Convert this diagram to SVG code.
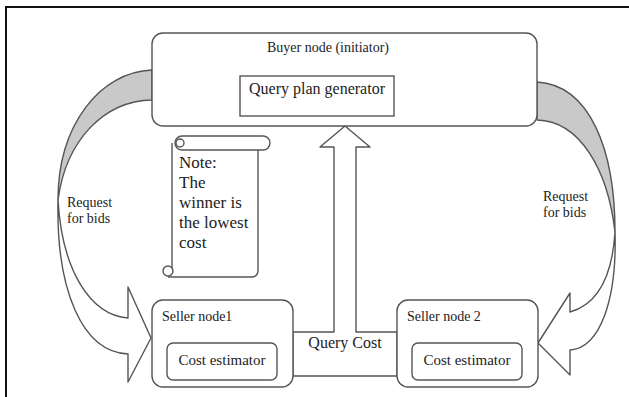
<svg xmlns="http://www.w3.org/2000/svg" width="629" height="397" viewBox="0 0 629 397">
  <style>
    .ln { fill: none; stroke: #555; stroke-width: 1.4; stroke-linejoin: round; }
    .box { fill: #fff; stroke: #555; stroke-width: 1.4; }
    .back { fill: #c9c9c9; stroke: #555; stroke-width: 1.4; stroke-linejoin: round; }
    .face { fill: #fff; stroke: #555; stroke-width: 1.4; stroke-linejoin: round; }
    text { font-family: "Liberation Serif", "Times New Roman", serif; fill: #222; }
    .t14 { font-size: 14px; }
    .t15 { font-size: 15px; }
    .t16 { font-size: 16px; }
    .note { font-size: 17px; }
  </style>

  <rect width="629" height="397" fill="#fff"/>
  <!-- page frame (top and left rule) -->
  <path d="M6,397 V7 H629" fill="none" stroke="#111" stroke-width="2"/>

  <g id="connectors">
    <!-- left curved arrow: buyer -> seller 1 -->
    <g id="request-left">
      <path class="back" d="M152,70 C100,72 58,125 58,200 C66,140 104,101 152,100 Z"/>
      <path class="face" d="M58,200 C56,290 82,352 128,354 L128,382 L151,338 L128,287 L128,318 C90,315 62,270 58,200 Z"/>
      <text class="t14" x="67" y="207">Request</text>
      <text class="t14" x="67" y="223">for bids</text>
    </g>
    <!-- right curved arrow: buyer -> seller 2 -->
    <g id="request-right">
      <path class="back" d="M537,82 C590,85 615,150 615,232 C608,170 580,121 537,120 Z"/>
      <path class="face" d="M615,232 C617,300 600,348 570,350 L570,375 L538,343 L570,293 L570,312 C595,305 612,280 615,232 Z"/>
      <text class="t14" x="543" y="201">Request</text>
      <text class="t14" x="543" y="217">for bids</text>
    </g>
    <!-- query cost band between sellers with upward arrow to buyer -->
    <g id="query-cost">
      <path class="face" d="M293,332 H334 V147 H320 L345,126 L370,147 H356 V332 H397 V376 H293 Z"/>
      <text class="t16" x="345" y="348" text-anchor="middle">Query Cost</text>
    </g>
  </g>

  <g id="buyer">
    <rect class="box" x="152" y="33" width="385" height="93" rx="11"/>
    <text class="t14" x="328" y="52" text-anchor="middle">Buyer node (initiator)</text>
    <g id="query-plan-generator">
      <rect class="box" x="240" y="76" width="154" height="40"/>
      <text class="t16" x="317" y="94" text-anchor="middle">Query plan generator</text>
    </g>
  </g>

  <g id="note">
    <path class="face" d="M172,143 V270 M258,150 V270 Q258,277 251,277 H168"/>
    <rect class="box" x="175" y="136" width="95" height="14" rx="7"/>
    <circle class="box" cx="180" cy="143" r="4"/>
    <circle class="box" cx="168" cy="271" r="5"/>
    <text class="note" x="179" y="168">Note:</text>
    <text class="note" x="179" y="188">The</text>
    <text class="note" x="179" y="208">winner is</text>
    <text class="note" x="179" y="228">the lowest</text>
    <text class="note" x="179" y="248">cost</text>
  </g>

  <g id="seller1">
    <rect class="box" x="152" y="300" width="141" height="87" rx="11"/>
    <text class="t14" x="162" y="321">Seller node1</text>
    <g id="cost-estimator-1">
      <rect class="box" x="167" y="343" width="110" height="37" rx="6"/>
      <text class="t15" x="222" y="365" text-anchor="middle">Cost estimator</text>
    </g>
  </g>

  <g id="seller2">
    <rect class="box" x="397" y="300" width="141" height="87" rx="11"/>
    <text class="t14" x="407" y="321">Seller node 2</text>
    <g id="cost-estimator-2">
      <rect class="box" x="412" y="343" width="110" height="37" rx="6"/>
      <text class="t15" x="467" y="365" text-anchor="middle">Cost estimator</text>
    </g>
  </g>
</svg>
